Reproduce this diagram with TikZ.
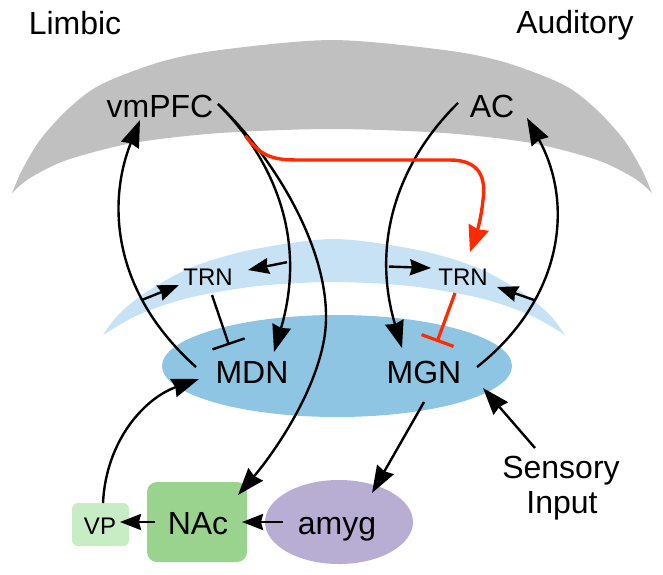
\documentclass[tikz,border=0pt]{standalone}
\usepackage{fontspec}
\setmainfont{Liberation Sans}
\usetikzlibrary{arrows.meta,shapes.geometric}
\definecolor{cortexgray}{HTML}{C0C0C0}
\definecolor{trnblue}{HTML}{C6E2F4}
\definecolor{thalblue}{HTML}{8EC5E3}
\definecolor{vpgreen}{HTML}{C8EDC4}
\definecolor{nacgreen}{HTML}{99D38D}
\definecolor{amyglav}{HTML}{B8AED3}
\definecolor{inhred}{HTML}{FF2A00}
\begin{document}
\begin{tikzpicture}[x=1pt,y=-1pt,
  big/.style={font=\fontsize{32}{38}\selectfont, anchor=base, inner sep=0pt},
  small/.style={font=\fontsize{24}{28}\selectfont, anchor=base, inner sep=0pt},
  conn/.style={line width=2.4pt, -{Stealth[length=27pt,width=19pt,inset=2pt]}},
  sconn/.style={line width=2.4pt, -{Stealth[length=21pt,width=16pt,inset=2pt]}},
  inh/.style={line width=2.4pt, -{Bar[width=34pt]}},
  redconn/.style={line width=3.4pt, inhred, -{Stealth[length=26pt,width=21pt,inset=2pt]}},
  redinh/.style={line width=3.2pt, inhred, -{Bar[width=34pt]}},
]
\useasboundingbox (0,0) rectangle (663,574);

% cortex band
\fill[cortexgray] plot[smooth] coordinates {(12,193) (22,170) (40,140) (67,110) (100,85) (160,62) (220,50) (332,40) (444,50) (504,62) (564,85) (597,110) (624,140) (642,170) (652,193)}
  -- plot[smooth] coordinates {(652,193) (634,178) (597,160) (531,143) (444,133) (332,129) (220,133) (133,143) (67,160) (30,178) (12,193)} -- cycle;

% TRN band
\fill[trnblue] plot[smooth] coordinates {(103,335) (118,315) (145,293) (190,268) (250,250) (334,239) (418,250) (478,268) (523,293) (550,315) (565,335)}
  -- plot[smooth] coordinates {(565,335) (530,315) (480,298) (410,286) (334,282) (258,286) (188,298) (138,315) (103,335)} -- cycle;

% thalamus
\node[ellipse, fill=thalblue, inner sep=0pt, minimum width=350pt, minimum height=102pt] (thal) at (337,366) {};
% boxes
\node[rectangle, rounded corners=6pt, fill=vpgreen, inner sep=0pt, minimum width=57pt, minimum height=43pt] (vpbox) at (100.5,524.5) {};
\node[rectangle, rounded corners=10pt, fill=nacgreen, inner sep=0pt, minimum width=100pt, minimum height=80pt] (nacbox) at (197,522) {};
\node[ellipse, fill=amyglav, inner sep=0pt, minimum width=148pt, minimum height=84pt] (amygbox) at (339,522) {};

% labels
\node[big] (limbic) at (75,34) {Limbic};
\node[big] (auditory) at (575,33) {Auditory};
\node[big] (vmpfc) at (160,117) {vmPFC};
\node[big] (ac) at (492,117) {AC};
\node[small] (trnL) at (208,285) {TRN};
\node[small] (trnR) at (463,285) {TRN};
\node[big] (mdn) at (252,383) {MDN};
\node[big] (mgn) at (424,383) {MGN};
\node[small] (vp) at (100,534) {VP};
\node[big] (nac) at (198,534) {NAc};
\node[big] (amyg) at (337,534) {amyg};
\node[big] (sensory) at (561,478) {Sensory};
\node[big] (input) at (562,513) {Input};

% endpoints
\coordinate (pfcOut) at (218,104);
\coordinate (mdnIn) at (274,352);
\coordinate (nacIn) at (238,495);
\coordinate (mdnOut) at (196,367);
\coordinate (pfcIn) at (140,120);
\coordinate (acOut) at (458,103);
\coordinate (mgnIn) at (402,348);
\coordinate (mgnOut) at (477,367);
\coordinate (acIn) at (527,118);
\coordinate (trnLtipA) at (179,285);
\coordinate (trnLtipB) at (248,270);
\coordinate (trnRtipA) at (431,268);
\coordinate (trnRtipB) at (497,287);
\coordinate (trnLinhS) at (212,295);
\coordinate (mdnInh) at (229,345);
\coordinate (trnRinhS) at (455,293);
\coordinate (mgnInh) at (437,342);
\coordinate (trnRin) at (470,252);
\coordinate (sensOut) at (535,448);
\coordinate (mgnSens) at (483,388);
\coordinate (mgnOut2) at (424,402);
\coordinate (amygIn) at (372,493);
\coordinate (amygOut) at (283,522);
\coordinate (nacIn2) at (242,522);
\coordinate (nacOut) at (155,522);
\coordinate (vpIn) at (120,522);
\coordinate (vpOut) at (103,503);
\coordinate (mdnIn2) at (199,379);

% black connectors
\draw[conn] (mdnOut) .. controls (110,290) and (108,200) .. coordinate[pos=0.28] (brA) (pfcIn);
\draw[sconn] (brA) -- (trnLtipA);
\draw[conn] (pfcOut) .. controls (265,150) and (310,230) .. coordinate[pos=0.2] (redStart) coordinate[pos=0.73] (brB) (mdnIn);
\draw[sconn] (brB) -- (trnLtipB);
\draw[conn] (pfcOut) .. controls (277,160) and (338,262) .. (324,340) .. controls (313,400) and (268,460) .. (nacIn);
\draw[conn] (acOut) .. controls (400,160) and (370,240) .. coordinate[pos=0.73] (brC) (mgnIn);
\draw[sconn] (brC) -- (trnRtipA);
\draw[conn] (mgnOut) .. controls (562,300) and (575,205) .. coordinate[pos=0.3] (brD) (acIn);
\draw[sconn] (brD) -- (trnRtipB);
\draw[inh] (trnLinhS) -- (mdnInh);
\draw[conn] (sensOut) -- (mgnSens);
\draw[conn] (mgnOut2) -- (amygIn);
\draw[sconn] (amygOut) -- (nacIn2);
\draw[sconn] (nacOut) -- (vpIn);
\draw[conn] (vpOut) .. controls (106,440) and (145,398) .. (mdnIn2);

% red connectors
\draw[redconn] (redStart) .. controls (262,158) and (275,160) .. (300,160) -- (450,160) .. controls (480,160) and (486,178) .. (483,200) .. controls (481,220) and (476,235) .. (trnRin);
\draw[redinh] (trnRinhS) -- (mgnInh);
\end{tikzpicture}
\end{document}
